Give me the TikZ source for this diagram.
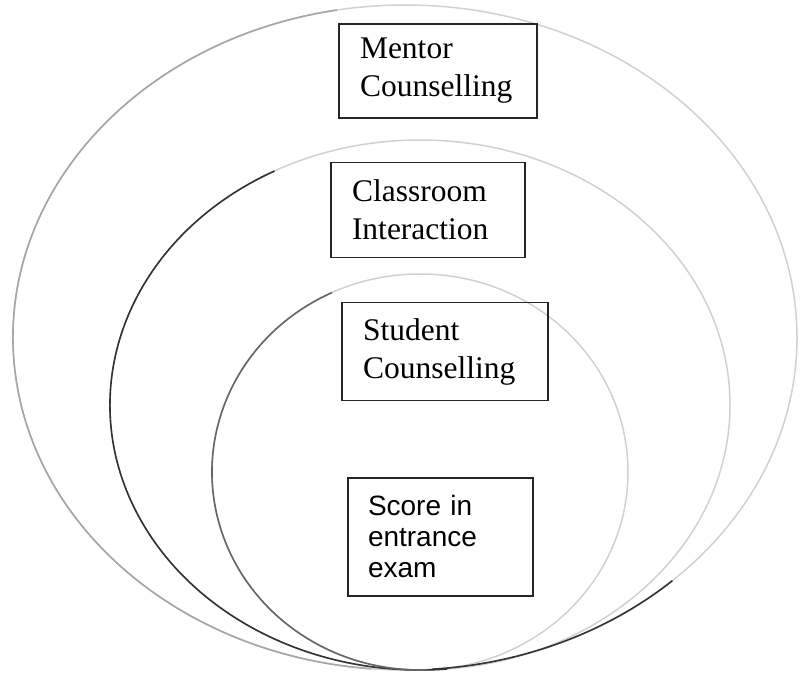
\documentclass[tikz,border=0pt]{standalone}
\usepackage{fontspec}
\setmainfont{Liberation Serif}
\newfontfamily\scoresans{Liberation Sans}
\usepackage{tikz}
\usetikzlibrary{positioning}
\usepackage{xcolor}

\begin{document}
\begin{tikzpicture}[
            x=1pt, y=-1pt,
            box/.style={rectangle, draw=black!85, line width=1.3pt, align=left, inner xsep=21pt, inner ysep=4pt, font=\fontsize{31.5}{38}\selectfont},
            scorebox/.style={box, inner xsep=20pt, font=\scoresans\fontsize{28}{31}\selectfont},
            ring/.style={line width=1.5pt, draw=black!18},
            inkring/.style={line width=1.6pt}
        ]
            \useasboundingbox (0,0) rectangle (811,674);

            % --- CIRCLES ---
            \draw[ring] (405,337.5) ellipse [x radius=392pt, y radius=332.5pt];
            \draw[ring] (420,405) ellipse [x radius=310pt, y radius=265pt];
            \draw[ring] (420,472) ellipse [x radius=208pt, y radius=198pt];

            % darker parts of the rings
            \draw[inkring, draw=black!35] (405,337.5) ++(100:392pt and 332.5pt) arc[start angle=100, end angle=265, x radius=392pt, y radius=332.5pt];
            \draw[inkring, draw=black!80] (405,337.5) ++(274:392pt and 332.5pt) arc[start angle=274, end angle=313, x radius=392pt, y radius=332.5pt];
            \draw[inkring, draw=black!80] (420,405) ++(118:310pt and 265pt) arc[start angle=118, end angle=275, x radius=310pt, y radius=265pt];
            \draw[inkring, draw=black!60] (420,472) ++(115:208pt and 198pt) arc[start angle=115, end angle=272, x radius=208pt, y radius=198pt];

            % --- BOXES ---
            \node[box, text width=156pt, minimum height=94pt] (mentor) at (438,71) {Mentor\\Counselling};
            \node[box, text width=152pt, minimum height=95pt, below=43pt of mentor, xshift=-10pt] (classroom) {Classroom\\Interaction};
            \node[box, text width=164pt, minimum height=98pt, below=44pt of classroom, xshift=17pt] (student) {Student\\Counselling};
            \node[scorebox, text width=145pt, minimum height=118pt, below=76pt of student, xshift=-4.5pt] (score) {Score in\\entrance\\exam};
        \end{tikzpicture}
\end{document}
